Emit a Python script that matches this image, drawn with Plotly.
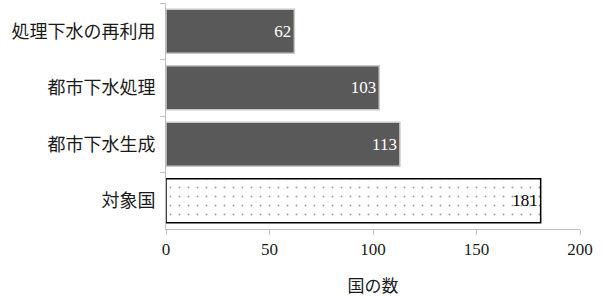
import plotly.graph_objects as go

categories = ["処理下水の再利用", "都市下水処理", "都市下水生成", "対象国"]
values = [62, 103, 113, 181]
x_ticks = [0, 50, 100, 150, 200]
x_title = "国の数"

fills = ["#595959", "#595959", "#595959", "#ffffff"]
lines = ["#c8c8c8", "#c8c8c8", "#c8c8c8", "#000000"]
text_colors = ["#ffffff", "#ffffff", "#ffffff", "#000000"]
patterns = ["", "", "", "."]

NUMFONT = "Liberation Serif"
JPFONT = "Noto Sans CJK JP"

fig = go.Figure()
fig.add_trace(go.Bar(
    y=categories,
    x=values,
    orientation="h",
    marker=dict(
        color=fills,
        line=dict(color=lines, width=1.5),
        pattern=dict(shape=patterns, fgcolor="#555555", bgcolor="#ffffff",
                     size=9, solidity=0.04, fillmode="overlay"),
    ),
    text=[str(v) for v in values],
    textposition="inside",
    insidetextanchor="end",
    textfont=dict(family=NUMFONT, size=17, color=text_colors),
    cliponaxis=False,
    width=0.78,
))

fig.update_layout(
    width=605, height=297,
    margin=dict(l=166, r=25, t=3, b=68),
    paper_bgcolor="#ffffff",
    plot_bgcolor="#ffffff",
    showlegend=False,
    font=dict(family=JPFONT, size=17, color="#1a1a1a"),
    xaxis=dict(
        range=[0, 200],
        tickvals=x_ticks,
        ticktext=[str(t) for t in x_ticks],
        showgrid=False,
        zeroline=False,
        showline=True,
        linecolor="#bfbfbf",
        linewidth=1,
        ticks="outside",
        ticklen=5,
        tickcolor="#bfbfbf",
        tickfont=dict(family=NUMFONT, size=17, color="#1a1a1a"),
        title=dict(text=x_title, font=dict(family=JPFONT, size=17, color="#1a1a1a"), standoff=24),
        fixedrange=True,
    ),
    yaxis=dict(
        categoryorder="array",
        categoryarray=categories,
        autorange="reversed",
        showgrid=False,
        zeroline=False,
        showline=True,
        linecolor="#bfbfbf",
        linewidth=1,
        ticks="outside",
        tickson="boundaries",
        ticklen=5,
        tickcolor="#bfbfbf",
        tickfont=dict(family=JPFONT, size=18, color="#1a1a1a"),
        ticklabelstandoff=6,
        fixedrange=True,
    ),
)

fig.write_html("out.html")
